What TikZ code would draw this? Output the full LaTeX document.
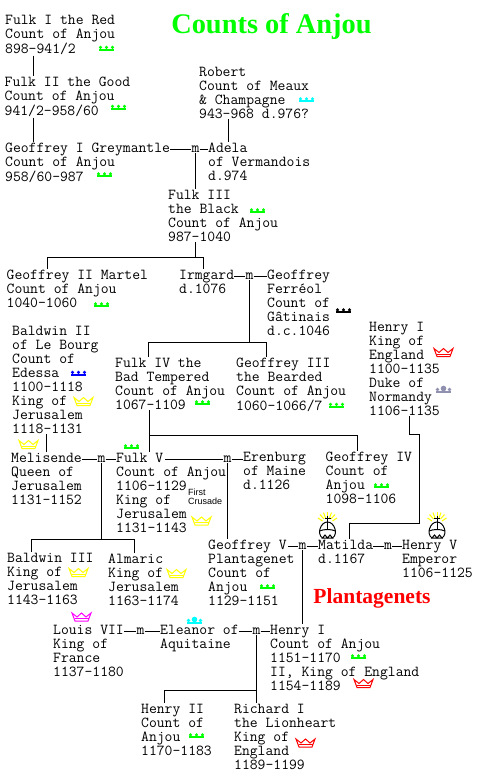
\documentclass[tikz,border=0pt]{standalone}
\usepackage{fontspec}
\setmainfont{Liberation Serif}
\newfontfamily\crusadefont{Liberation Sans}
\usetikzlibrary{positioning,calc}
\definecolor{crowngreen}{HTML}{00FF00}
\definecolor{crownyellow}{HTML}{FFFF00}
\definecolor{crowncyan}{HTML}{00FFFF}
\definecolor{crownred}{HTML}{FF0000}
\definecolor{crownblue}{HTML}{0000FF}
\definecolor{crownpink}{HTML}{FF00FF}
\definecolor{crowngrey}{HTML}{9090B0}
\tikzset{
  person/.style={anchor=north west, inner xsep=0pt, inner ysep=1pt, align=left,
    font=\ttfamily\fontsize{15.24}{14}\selectfont, execute at begin node={\rule{0pt}{10pt}}},
  marriage/.style={anchor=base, inner sep=0pt, font=\ttfamily\fontsize{15.24}{14}\selectfont},
  line/.style={draw, line width=1pt},
  countcrown/.pic={
    \fill (-7.5,0.8) rectangle (7.5,2.6);
    \fill (-6,-0.7) circle (1.7);
    \fill (0,-0.7) circle (1.7);
    \fill (6,-0.7) circle (1.7);
  },
  kingcrown/.pic={
    \draw[line width=1pt] (-9.5,-4) -- (-6.5,4) -- (6.5,4) -- (9.5,-4) -- (4.5,0) -- (0,-4) -- (-4.5,0) -- cycle;
    \draw[line width=1pt] (-7,1.5) -- (7,1.5);
  },
  dukecrown/.pic={
    \fill (-7.5,2.2) rectangle (7.5,4);
    \fill (-6,0.5) circle (1.8);
    \fill (0,-0.5) circle (2.8);
    \fill (6,0.5) circle (1.8);
  },
  imperialcrown/.pic={
    \draw[crownyellow, line width=1pt] (-5,-22) -- (-9.5,-25);
    \draw[crownyellow, line width=1pt] (-3.5,-24) -- (-7.5,-28.5);
    \draw[crownyellow, line width=1pt] (-2,-25) -- (-4,-30.5);
    \draw[crownyellow, line width=1pt] (0,-26) -- (0,-31);
    \draw[crownyellow, line width=1pt] (2,-25) -- (4,-30.5);
    \draw[crownyellow, line width=1pt] (3.5,-24) -- (7.5,-28.5);
    \draw[crownyellow, line width=1pt] (5,-22) -- (9.5,-25);
    \draw[line width=1pt] (0,-27) -- (0,-13);
    \draw[line width=1pt] (-3,-25) -- (3,-25);
    \draw[line width=1pt] (-5,-5) .. controls (-11,-9) and (-7,-21) .. (0,-21) .. controls (7,-21) and (11,-9) .. (5,-5);
    \draw[line width=1pt] (-8,-12) .. controls (-4,-14) and (4,-14) .. (8,-12);
    \draw[line width=1pt] (-5,-5) -- (-2.5,-8) -- (0,-5) -- (2.5,-8) -- (5,-5) -- cycle;
  }
}

\begin{document}
\begin{tikzpicture}[x=1pt, y=-1pt]
        \useasboundingbox (0,0) rectangle (477,780);
        %titles
        \node[inner sep=0pt, crowngreen, font=\rmfamily\bfseries\fontsize{28.4}{30}\selectfont] (title) at (271.5, 27) {Counts of Anjou};
        \node[inner sep=0pt, crownred, font=\rmfamily\bfseries\fontsize{21.5}{22}\selectfont] (plantagenets) at (372, 598) {Plantagenets};
        %nodes
        \node[person] (fulkI) at (5, 13.5) {Fulk I the Red\\Count of Anjou\\898–941/2};
        \node[person] (fulkII) at (4.5, 75.5) {Fulk II the Good\\Count of Anjou\\941/2–958/60};
        \node[person] (robert) at (199, 65.5) {Robert\\Count of Meaux\\\& Champagne\\943–968 d.976?};
        \node[person] (geoffreyI) at (5, 141.5) {Geoffrey I Greymantle\\Count of Anjou\\958/60–987};
        \node[person] (adela) at (208, 141.5) {Adela\\of Vermandois\\d.974};
        \node[person] (fulkIII) at (168, 188.5) {Fulk III\\the Black\\Count of Anjou\\987–1040};
        \node[person] (geoffreyII) at (6.5, 268.5) {Geoffrey II Martel\\Count of Anjou\\1040–1060};
        \node[person] (irmgard) at (179, 268.5) {Irmgard\\d.1076};
        \node[person] (ferreol) at (267, 268.5) {Geoffrey\\Ferréol\\Count of\\Gâtinais\\d.c.1046};
        \node[person] (baldwinII) at (12, 324.5) {Baldwin II\\of Le Bourg\\Count of\\Edessa\\1100–1118\\King of\\Jerusalem\\1118–1131};
        \node[person] (fulkIV) at (115, 356.5) {Fulk IV the\\Bad Tempered\\Count of Anjou\\1067–1109};
        \node[person] (geoffreyIII) at (236, 356.5) {Geoffrey III\\the Bearded\\Count of Anjou\\1060–1066/7};
        \node[person] (henryKing) at (369, 320.5) {Henry I\\King of\\England\\1100–1135\\Duke of\\Normandy\\1106–1135};
        \node[person] (melisende) at (11, 451.5) {Melisende\\Queen of\\Jerusalem\\1131–1152};
        \node[person] (fulkV) at (116, 451.5) {Fulk V\\Count of Anjou\\1106–1129\\King of\\Jerusalem\\1131–1143};
        \node[inner sep=0pt, align=left, anchor=north west, font=\crusadefont\fontsize{9}{9}\selectfont] (crusade) at (188, 489) {First\\Crusade};
        \node[person] (erenburg) at (243, 450.5) {Erenburg\\of Maine\\d.1126};
        \node[person] (geoffreyIV) at (325.5, 450.5) {Geoffrey IV\\Count of\\Anjou\\1098–1106};
        \node[person] (baldwinIII) at (7, 551.5) {Baldwin III\\King of\\Jerusalem\\1143–1163};
        \node[person] (almaric) at (108, 552.5) {Almaric\\King of\\Jerusalem\\1163–1174};
        \node[person] (geoffreyV) at (208, 538.5) {Geoffrey V\\Plantagenet\\Count of\\Anjou\\1129–1151};
        \node[person] (matilda) at (318, 538.5) {Matilda\\d.1167};
        \node[person] (henryV) at (402, 538.5) {Henry V\\Emperor\\1106–1125};
        \node[person] (louis) at (53, 623.5) {Louis VII\\King of\\France\\1137–1180};
        \node[person] (eleanor) at (160, 623.5) {Eleanor of\\Aquitaine};
        \node[person] (henryAnjou) at (270, 623.5) {Henry I\\Count of Anjou\\1151–1170\\II, King of England\\1154–1189};
        \node[person] (henryII) at (141, 702.5) {Henry II\\Count of\\Anjou\\1170–1183};
        \node[person] (richard) at (234, 702.5) {Richard I\\the Lionheart\\King of\\England\\1189–1199};
        %marriages
        \node[marriage] (mAdela) at (195.5, 152.5) {m};
        \node[marriage] (mIrmgard) at (249.5, 279.5) {m};
        \node[marriage] (mMelisende) at (101.5, 462.5) {m};
        \node[marriage] (mErenburg) at (227.5, 462.5) {m};
        \node[marriage] (mMatilda) at (302.5, 549.5) {m};
        \node[marriage] (mHenryV) at (388, 549.5) {m};
        \node[marriage] (mLouis) at (140.5, 634.5) {m};
        \node[marriage] (mEleanor) at (256.5, 634.5) {m};
        %junctions
        \coordinate (lineFulk) at (33, 60);
        \coordinate (lineRobert) at (228.5, 130);
        \coordinate (lineBaldwin) at (46, 440);
        \coordinate (fulkVend) at (165, 458);
        \coordinate (geoffreyVend) at (288, 545);
        \coordinate (barA) at (47.5, 257.5);
        \coordinate (barB) at (203.5, 257.5);
        \coordinate (barC) at (148.5, 342.5);
        \coordinate (barD) at (266.5, 342.5);
        \coordinate (barE) at (149.5, 435.5);
        \coordinate (barF) at (357.5, 435.5);
        \coordinate (barG) at (31.5, 539.5);
        \coordinate (barH) at (134.5, 539.5);
        \coordinate (barJ) at (164.5, 690.5);
        \coordinate (henryA) at (409.5, 434.5);
        \coordinate (henryB) at (419.5, 434.5);
        \coordinate (henryC) at (419.5, 523.5);
        \coordinate (henryD) at (349.5, 523.5);
        %edges
        \path [line] (fulkI.south -| lineFulk) to (fulkII.north -| lineFulk);
        \path [line] (fulkII.south -| lineFulk) to (geoffreyI.north -| lineFulk);
        \path [line] (robert.south -| lineRobert) to (adela.north -| lineRobert);
        \path [line] (geoffreyI.east |- mAdela.center) to (mAdela.west);
        \path [line] (mAdela.east) to (adela.west |- mAdela.center);
        \path [line] (mAdela.south) to (fulkIII.north -| mAdela);
        \path [line] (fulkIII.south -| mAdela) to (mAdela |- barA);
        \path [line] (geoffreyII.north -| barA) -- (barA) -- (barB) -- (irmgard.north -| barB);
        \path [line] (irmgard.east |- mIrmgard.center) to (mIrmgard.west);
        \path [line] (mIrmgard.east) to (ferreol.west |- mIrmgard.center);
        \path [line] (mIrmgard.south) to (mIrmgard |- barC);
        \path [line] (fulkIV.north -| barC) -- (barC) -- (barD) -- (geoffreyIII.north -| barD);
        \path [line] (fulkIV.south -| barE) to (fulkV.north -| barE);
        \path [line] (barE) -- (barF) -- (geoffreyIV.north -| barF);
        \path [line] (baldwinII.south -| lineBaldwin) to (melisende.north -| lineBaldwin);
        \path [line] (melisende.east |- mMelisende.center) to (mMelisende.west);
        \path [line] (mMelisende.east) to (fulkV.west |- mMelisende.center);
        \path [line] (mMelisende.south) to (mMelisende |- barG);
        \path [line] (baldwinIII.north -| barG) -- (barG) -- (barH) -- (almaric.north -| barH);
        \path [line] (fulkVend |- mErenburg.center) to (mErenburg.west);
        \path [line] (mErenburg.east) to (erenburg.west |- mErenburg.center);
        \path [line] (mErenburg.south) to (geoffreyV.north -| mErenburg);
        \path [line] (geoffreyVend |- mMatilda.center) to (mMatilda.west);
        \path [line] (mMatilda.east) to (matilda.west |- mMatilda.center);
        \path [line] (mMatilda.south) to (henryAnjou.north -| mMatilda);
        \path [line] (matilda.east |- mHenryV.center) to (mHenryV.west);
        \path [line] (mHenryV.east) to (henryV.west |- mHenryV.center);
        \path [line] (henryKing.south -| henryA) -- (henryA) -- (henryB) -- (henryC) -- (henryD) -- (matilda.north -| henryD);
        \path [line] (louis.east |- mLouis.center) to (mLouis.west);
        \path [line] (mLouis.east) to (eleanor.west |- mLouis.center);
        \path [line] (eleanor.east |- mEleanor.center) to (mEleanor.west);
        \path [line] (mEleanor.east) to (henryAnjou.west |- mEleanor.center);
        \path [line] (mEleanor.south) to (richard.north -| mEleanor);
        \path [line] (henryII.north -| barJ) -- (barJ) -- (mEleanor |- barJ);
        %crowns
        \pic[crowngreen] at (106.5, 48) {countcrown};
        \pic[crowngreen] at (118.5, 107) {countcrown};
        \pic[crowngreen] at (104.5, 174.5) {countcrown};
        \pic[crowncyan] at (306.5, 99.5) {countcrown};
        \pic[crowngreen] at (257.5, 210.5) {countcrown};
        \pic[crowngreen] at (101.5, 304.5) {countcrown};
        \pic[black] at (343.5, 310.5) {countcrown};
        \pic[crownblue] at (78.5, 373) {countcrown};
        \pic[crownyellow] at (83.5, 401.5) {kingcrown};
        \pic[crowngreen] at (202.5, 402.5) {countcrown};
        \pic[crowngreen] at (336.5, 405) {countcrown};
        \pic[crownred] at (443.5, 352.5) {kingcrown};
        \pic[crowngrey] at (443.5, 389) {dukecrown};
        \pic[crownyellow] at (28.5, 444.5) {kingcrown};
        \pic[crowngreen] at (131.5, 446.5) {countcrown};
        \pic[crownyellow] at (201.5, 521) {kingcrown};
        \pic[crowngreen] at (381.5, 485.5) {countcrown};
        \pic at (327.5, 543) {imperialcrown};
        \pic at (437, 543) {imperialcrown};
        \pic[crownyellow] at (78.5, 572.5) {kingcrown};
        \pic[crownyellow] at (176.5, 573.5) {kingcrown};
        \pic[crowngreen] at (267.5, 586.5) {countcrown};
        \pic[crownpink] at (81.5, 617) {kingcrown};
        \pic[crowncyan] at (194.5, 620) {dukecrown};
        \pic[crowngreen] at (358.5, 656.5) {countcrown};
        \pic[crownred] at (363.5, 683.5) {kingcrown};
        \pic[crowngreen] at (196.5, 735.5) {countcrown};
        \pic[crownred] at (305.5, 743) {kingcrown};
      \end{tikzpicture}
\end{document}
